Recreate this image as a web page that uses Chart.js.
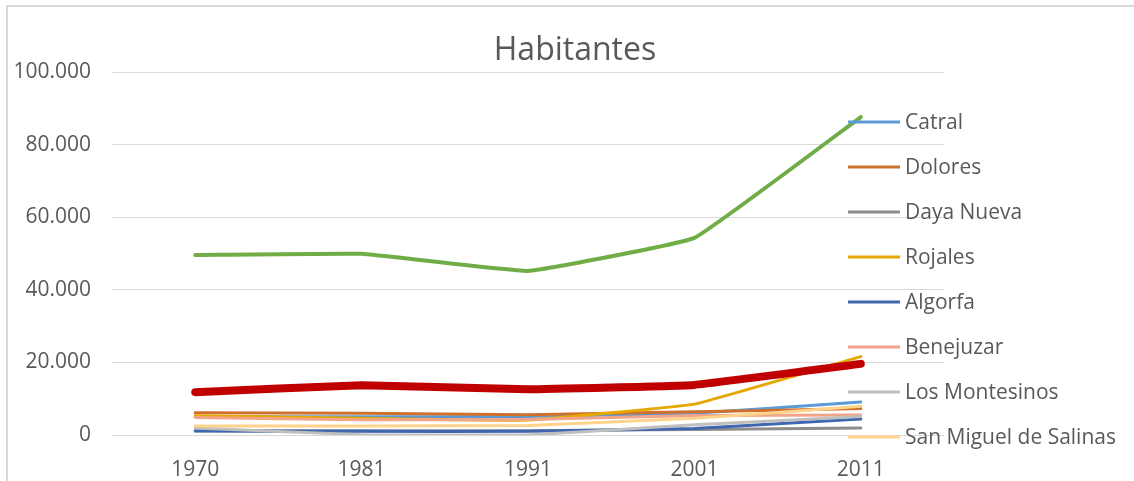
<!DOCTYPE html>
<html>
<head>
<meta charset="utf-8">
<script src="https://cdn.jsdelivr.net/npm/chart.js@4"></script>
<style>
  body { margin: 0; background: #fff; }
  #wrap { position: relative; width: 1134px; height: 481px; overflow: hidden; }
  #frame { position: absolute; left: 6px; top: 5px; width: 2000px; height: 1000px;
           border-left: 2px solid #d9d9d9; border-top: 2px solid #d9d9d9; pointer-events: none; }
</style>
</head>
<body>
<div id="wrap">
  <canvas id="myChart" width="1134" height="481"></canvas>
  <div id="frame"></div>
</div>
<script>
const years = ["1970", "1981", "1991", "2001", "2011"];
const yTicks = [0, 20000, 40000, 60000, 80000, 100000];

// habitantes por municipio
const catral = [5000, 5000, 5100, 6000, 9100];
const dolores = [6100, 6000, 5600, 6400, 7300];
const dayaNueva = [1200, 1200, 1200, 1500, 1950];
const rojales = [5300, 4600, 4100, 8500, 21600];
const algorfa = [1100, 1000, 1000, 1800, 4400];
const benejuzar = [4800, 4200, 4300, 5400, 5500];
const losMontesinos = [1900, 100, 0, 2800, 5100];
const sanMiguel = [2500, 2500, 2600, 4600, 7900];
const orihuela = [49600, 49900, 45200, 54300, 87600];
const almoradi = [11800, 13700, 12600, 13800, 19600];

const names = ["Catral", "Dolores", "Daya Nueva", "Rojales", "Algorfa", "Benejuzar",
  "Los Montesinos", "San Miguel de Salinas", "Orihuela", "Almoradí"];
const values = [catral, dolores, dayaNueva, rojales, algorfa, benejuzar,
  losMontesinos, sanMiguel, orihuela, almoradi];
const lineColors = ["#5B9BD5", "#D0702E", "#8C8C8C", "#E5A800", "#3F66B0", "#F2A489",
  "#BFBFBF", "#FFD38B", "#70AD47", "#C00000"];
const lineWidths = [3, 3, 3, 3, 3, 3, 3, 3, 4, 8];
// the legend box of the original is cut after the eighth entry
const legendShown = 8;

const textColor = "#595959";
const fontFamily = "'Open Sans', sans-serif";

function formatNumber(v) {
  return String(v).replace(/\B(?=(\d{3})+(?!\d))/g, ".");
}

// title and the legend at the right, drawn over the plot like in Excel
const sideLegend = {
  id: 'sideLegend',
  afterDraw(chart) {
    const ctx = chart.ctx;
    ctx.save();
    ctx.fillStyle = textColor;
    ctx.font = "32px " + fontFamily;
    ctx.textAlign = "center";
    ctx.textBaseline = "middle";
    ctx.fillText("Habitantes", 575, 51);

    ctx.font = "21px " + fontFamily;
    ctx.textAlign = "left";
    names.slice(0, legendShown).forEach((name, i) => {
      const y = 122 + i * 45;
      ctx.strokeStyle = lineColors[i];
      ctx.lineWidth = 3;
      ctx.beginPath();
      ctx.moveTo(848, y);
      ctx.lineTo(900, y);
      ctx.stroke();
      ctx.fillStyle = textColor;
      ctx.fillText(name, 905, y + 1);
    });
    ctx.restore();
  }
};

new Chart('myChart', {
  type: 'line',
  data: {
    labels: years,
    datasets: names.map((name, i) => ({
      label: name,
      data: values[i],
      borderColor: lineColors[i],
      backgroundColor: lineColors[i],
      borderWidth: lineWidths[i],
      pointRadius: 0,
      tension: 0.08,
      borderCapStyle: 'round',
      borderJoinStyle: 'round',
      order: names.length - i
    }))
  },
  options: {
    responsive: false,
    animation: false,
    layout: { padding: { top: 72, right: 190, left: 0, bottom: 0 } },
    plugins: {
      legend: { display: false },
      title: { display: false },
      tooltip: { enabled: false }
    },
    scales: {
      x: {
        offset: true,
        grid: { display: false },
        border: { display: false },
        ticks: { color: textColor, font: { family: fontFamily, size: 21 }, padding: 14 },
        afterFit(scale) { scale.height = 46; }
      },
      y: {
        min: 0,
        max: 100000,
        afterBuildTicks(scale) { scale.ticks = yTicks.map(v => ({ value: v })); },
        grid: { color: "#d9d9d9", lineWidth: 1, drawTicks: false },
        border: { display: false },
        ticks: {
          color: textColor,
          font: { family: fontFamily, size: 21 },
          padding: 21,
          callback: v => formatNumber(v)
        },
        afterFit(scale) { scale.width = 112; }
      }
    }
  },
  plugins: [sideLegend]
});
</script>
</body>
</html>
